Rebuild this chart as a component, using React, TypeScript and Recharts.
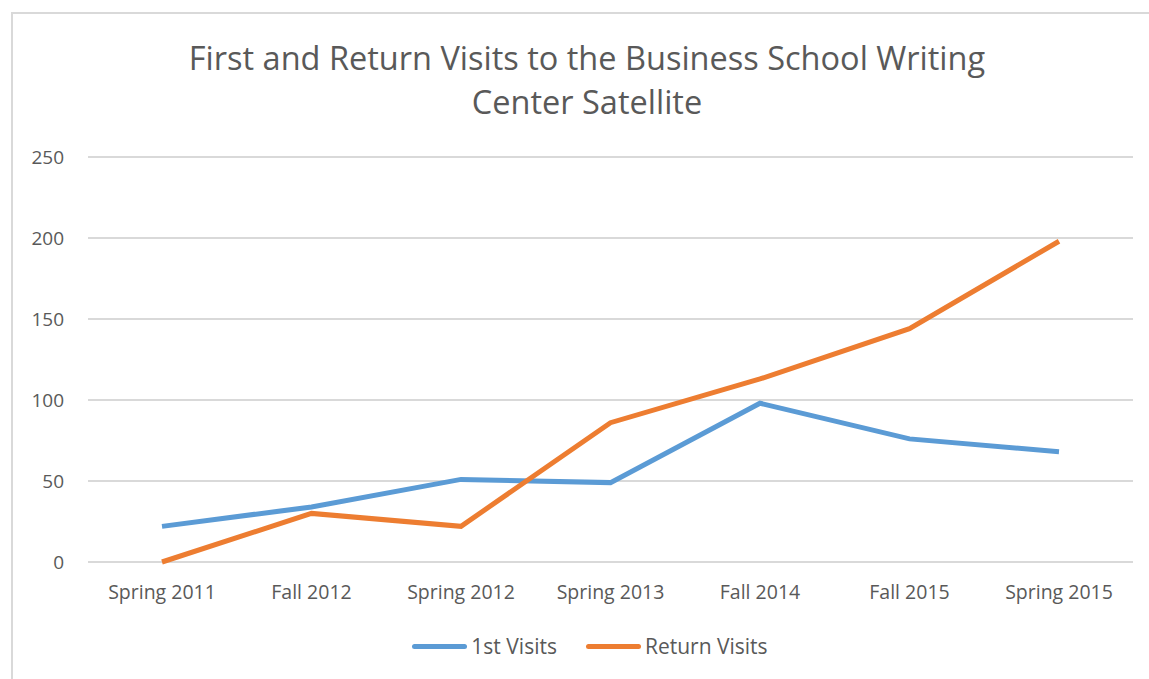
import { LineChart, Line, XAxis, YAxis, CartesianGrid } from 'recharts';

const terms = ['Spring 2011', 'Fall 2012', 'Spring 2012', 'Spring 2013', 'Fall 2014', 'Fall 2015', 'Spring 2015'];
const firstVisits = [22, 34, 51, 49, 98, 76, 68];
const returnVisits = [0, 30, 22, 86, 113, 144, 198];
const yTicks = [0, 50, 100, 150, 200, 250];

const seriesNames = ['1st Visits', 'Return Visits'];
const seriesColors = ['#5b9bd5', '#ed7d31'];

const chartData = terms.map((term, i) => ({
  term,
  first: firstVisits[i],
  ret: returnVisits[i],
}));

const font = '"Open Sans", "Liberation Sans", sans-serif';
const textColor = '#595959';

export default function App() {
  return (
    <div style={{ position: 'absolute', left: 0, top: 0, width: 1149, height: 679, background: '#fff', fontFamily: font }}>
      <div style={{
        position: 'absolute', left: 11, top: 12, width: 1149, height: 679,
        borderLeft: '2px solid #d9d9d9', borderTop: '2px solid #d9d9d9',
      }} />
      <div style={{
        position: 'absolute', left: 0, top: 36, width: 1174, textAlign: 'center',
        fontSize: 32.5, lineHeight: '44px', color: textColor,
      }}>
        First and Return Visits to the Business School Writing<br />Center Satellite
      </div>
      <div style={{ position: 'absolute', left: 0, top: 0 }}>
        <LineChart width={1149} height={679} data={chartData} margin={{ top: 157, right: 16, bottom: 67, left: 0 }}>
          <CartesianGrid vertical={false} stroke="#d9d9d9" strokeWidth={2} />
          <XAxis
            dataKey="term"
            axisLine={false}
            tickLine={false}
            height={50}
            tickSize={0}
            tickMargin={23}
            interval={0}
            padding={{ left: 74, right: 74 }}
            tick={{ fill: textColor, fontSize: 19.5, fontFamily: font }}
          />
          <YAxis
            domain={[0, 250]}
            ticks={yTicks}
            axisLine={false}
            tickLine={false}
            width={88}
            tickSize={0}
            tickMargin={24}
            tick={{ fill: textColor, fontSize: 19, fontFamily: font }}
          />
          <Line type="linear" dataKey="first" stroke={seriesColors[0]} strokeWidth={5} dot={false} isAnimationActive={false} />
          <Line type="linear" dataKey="ret" stroke={seriesColors[1]} strokeWidth={5} dot={false} isAnimationActive={false} />
        </LineChart>
      </div>
      <div style={{
        position: 'absolute', left: 0, top: 632, width: 1180, display: 'flex', justifyContent: 'center',
        gap: 29, fontSize: 21, color: textColor,
      }}>
        {seriesNames.map((name, i) => (
          <div key={name} style={{ display: 'flex', alignItems: 'center' }}>
            <span style={{ display: 'inline-block', width: 55, height: 5, borderRadius: 3, background: seriesColors[i], marginRight: 4 }} />
            <span>{name}</span>
          </div>
        ))}
      </div>
    </div>
  );
}
